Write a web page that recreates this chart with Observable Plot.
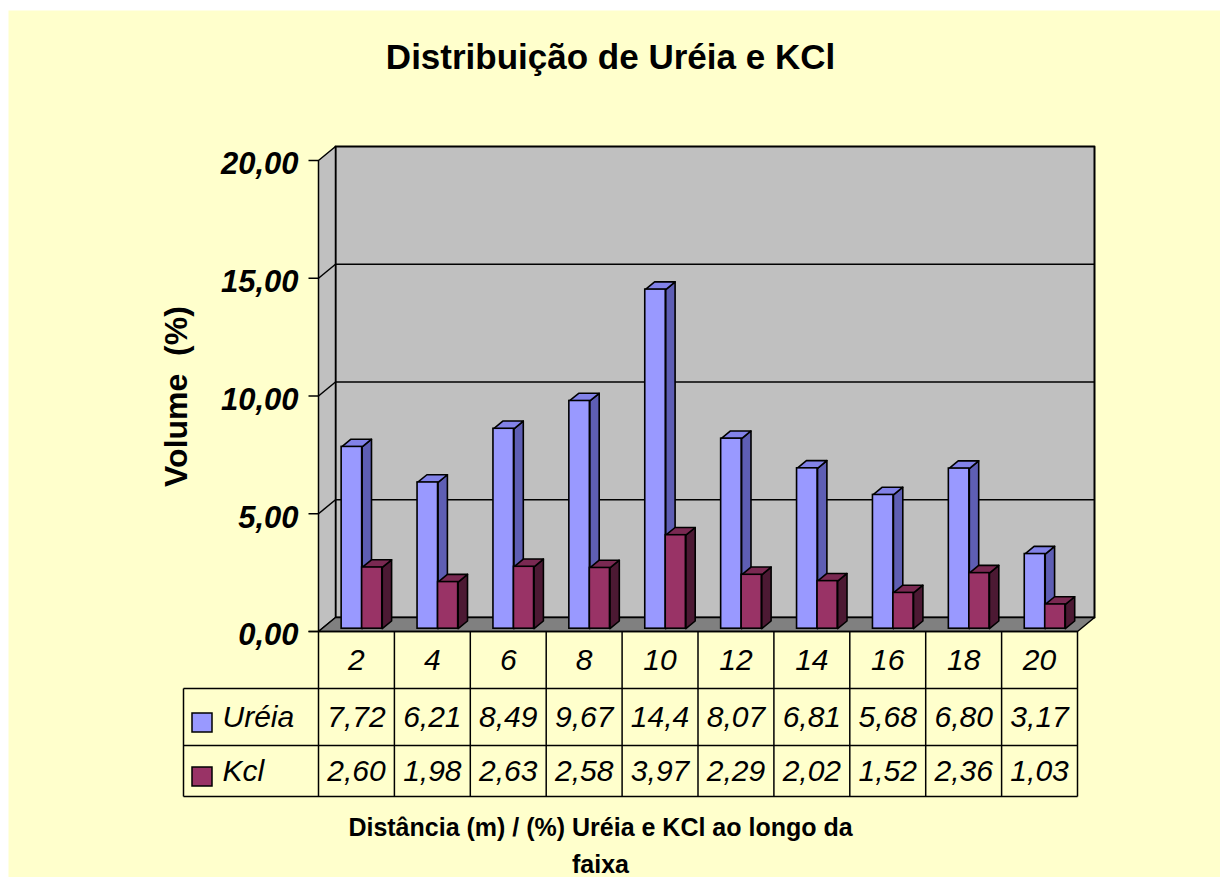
<!DOCTYPE html>
<html><head><meta charset="utf-8">
<script src="https://cdn.jsdelivr.net/npm/d3@7"></script>
<script src="https://cdn.jsdelivr.net/npm/@observablehq/plot@0.6"></script>
<style>
body{margin:0;background:#fff;}
#chart{width:1220px;height:877px;}
</style></head><body><div id="chart"></div>
<script>
// ---- data ----
const distances = ["2","4","6","8","10","12","14","16","18","20"];
const ureia = [7.72, 6.21, 8.49, 9.67, 14.4, 8.07, 6.81, 5.68, 6.80, 3.17];
const kcl   = [2.60, 1.98, 2.63, 2.58, 3.97, 2.29, 2.02, 1.52, 2.36, 1.03];
const yTicks = [0, 5, 10, 15, 20];
const seriesNames = ["Uréia", "Kcl"];
const titleText = "Distribuição de Uréia e KCl";
const yLabel = "Volume  (%)";
const xLabelLines = ["Distância (m) / (%) Uréia e KCl ao longo da", "faixa"];

// ---- layout (pixels -> data units) ----
const X0 = 318, X1 = 1077, YB = 631, YT = 160;
const UX = (X1 - X0) / distances.length, UY = (YB - YT) / 20;
const ax = p => (p - X0) / UX, ay = p => (YB - p) / UY;
const DDX = 17 / UX, DDY = 14 / UY;            // full depth of the 3D box
const fy = 0.2 * DDY;                          // bars' front plane
const bdx = 0.55 * DDX, bdy = 0.55 * DDY;      // bar depth
const slots = [[0.305, 0.575], [0.575, 0.84]];
const styles = [
  {front: "#9999FF", top: "#8282E8", side: "#5E5EB4"},
  {front: "#993366", top: "#7A2952", side: "#4C1933"}
];
const seriesValues = [ureia, kcl];
const fmt = v => v.toFixed(2).replace(".", ",").slice(0, 4);

const poly = (pts, id) => pts.concat([pts[0]]).map(([x, y]) => ({id, x, y}));

const sideWall = poly([[0, 0], [0, 20], [DDX, 20 + DDY], [DDX, DDY]], "side");
const backWall = poly([[DDX, DDY], [10 + DDX, DDY], [10 + DDX, 20 + DDY], [DDX, 20 + DDY]], "back");
const floor = poly([[0, 0], [10, 0], [10 + DDX, DDY], [DDX, DDY]], "floor");

const grid = [5, 10, 15].flatMap(t => [
  {x1: DDX, y1: t + DDY, x2: 10 + DDX, y2: t + DDY},
  {x1: 0, y1: t, x2: DDX, y2: t + DDY}
]);

const barMarks = [];
seriesValues.forEach((vals, s) => {
  const bars = vals.map((v, i) => ({
    i, v, x1: i + slots[s][0], x2: i + slots[s][1], y1: fy, y2: v + fy
  }));
  const sides = bars.flatMap(b => poly([[b.x2, b.y1], [b.x2 + bdx, b.y1 + bdy], [b.x2 + bdx, b.y2 + bdy], [b.x2, b.y2]], "s" + b.i));
  const tops = bars.flatMap(b => poly([[b.x1, b.y2], [b.x2, b.y2], [b.x2 + bdx, b.y2 + bdy], [b.x1 + bdx, b.y2 + bdy]], "t" + b.i));
  barMarks.push(
    Plot.line(sides, {x: "x", y: "y", z: "id", fill: styles[s].side, stroke: "black", strokeWidth: 1.6, strokeLinejoin: "round"}),
    Plot.line(tops, {x: "x", y: "y", z: "id", fill: styles[s].top, stroke: "black", strokeWidth: 1.6, strokeLinejoin: "round"}),
    Plot.rect(bars, {x1: "x1", x2: "x2", y1: "y1", y2: "y2", fill: styles[s].front, stroke: "black", strokeWidth: 1.6})
  );
});

// table geometry
const rowY = [631, 688, 745, 796];
const legendLeft = ax(183);
const tableLines = [
  ...d3.range(0, 11).map(k => ({x1: k, y1: 0, x2: k, y2: ay(rowY[3])})),
  {x1: legendLeft, y1: ay(rowY[1]), x2: legendLeft, y2: ay(rowY[3])},
  {x1: legendLeft, y1: ay(rowY[1]), x2: 10, y2: ay(rowY[1])},
  {x1: legendLeft, y1: ay(rowY[2]), x2: 10, y2: ay(rowY[2])},
  {x1: legendLeft, y1: ay(rowY[3]), x2: 10, y2: ay(rowY[3])},
  {x1: ax(308), y1: 0, x2: 10, y2: 0}
];
const headerCells = distances.map((d, i) => ({x: i + 0.5, y: ay(660), t: d}));
const valueCells = seriesValues.flatMap((vals, s) =>
  vals.map((v, i) => ({x: i + 0.5, y: ay(s === 0 ? 717 : 771), t: fmt(v)})));
const legendRows = seriesNames.map((n, s) => ({
  n, s, x1: ax(192), x2: ax(212), y1: ay(s === 0 ? 732 : 786), y2: ay(s === 0 ? 713 : 767),
  tx: ax(222), ty: ay(s === 0 ? 717 : 771)
}));
const xLabelRows = xLabelLines.map((t, i) => ({t, dy: i === 0 ? 827 : 864}));

const font = "'Liberation Sans', Arial, sans-serif";

const chart = Plot.plot({
  width: 1220, height: 877,
  marginLeft: 0, marginRight: 0, marginTop: 0, marginBottom: 0,
  style: {background: "white", fontFamily: font},
  x: {type: "linear", domain: [0, 10], range: [X0, X1], axis: null},
  y: {type: "linear", domain: [0, 20], range: [YB, YT], axis: null},
  marks: [
    Plot.frame({fill: "#FFFFCC", stroke: null, insetLeft: 8, insetTop: 10}),
    Plot.line(backWall, {x: "x", y: "y", z: "id", fill: "#C0C0C0", stroke: "black", strokeWidth: 2}),
    Plot.line(sideWall, {x: "x", y: "y", z: "id", fill: "#C0C0C0", stroke: "black", strokeWidth: 1.5}),
    Plot.line(floor, {x: "x", y: "y", z: "id", fill: "#808080", stroke: "black", strokeWidth: 1.5}),
    Plot.link(grid, {x1: "x1", y1: "y1", x2: "x2", y2: "y2", stroke: "black", strokeWidth: 1.5}),
    Plot.link(yTicks, {x1: ax(308), x2: 0, y1: d => d, y2: d => d, stroke: "black", strokeWidth: 1.5}),
    Plot.text(yTicks, {x: ax(298), y: d => d, text: d => d.toFixed(2).replace(".", ","), textAnchor: "end",
      dy: 4, fontSize: 31, fontWeight: "bold", fontStyle: "italic", fill: "black"}),
    ...barMarks,
    Plot.link(tableLines, {x1: "x1", y1: "y1", x2: "x2", y2: "y2", stroke: "black", strokeWidth: 1.5}),
    Plot.text(headerCells, {x: "x", y: "y", text: "t", fontSize: 30, fontStyle: "italic", fill: "black"}),
    Plot.text(valueCells, {x: "x", y: "y", text: "t", fontSize: 30, fontStyle: "italic", fill: "black"}),
    Plot.rect(legendRows, {x1: "x1", x2: "x2", y1: "y1", y2: "y2", fill: d => styles[d.s].front, stroke: "black", strokeWidth: 1.5}),
    Plot.text(legendRows, {x: "tx", y: "ty", text: "n", textAnchor: "start", fontSize: 30, fontStyle: "italic", fill: "black"}),
    Plot.text([titleText], {frameAnchor: "top-left", dx: 610, dy: 57, text: d => d, textAnchor: "middle", lineAnchor: "middle",
      fontSize: 35, fontWeight: "bold", fill: "black"}),
    Plot.text([yLabel], {frameAnchor: "top-left", dx: 176, dy: 396, rotate: -90, text: d => d, textAnchor: "middle", lineAnchor: "middle",
      fontSize: 32, fontWeight: "bold", fill: "black"}),
    Plot.text(xLabelRows, {frameAnchor: "top-left", dx: 600, dy: d => 0, text: "t", textAnchor: "middle", lineAnchor: "middle",
      fontSize: 25, fontWeight: "bold", fill: "black", filter: d => d.dy === 827, dy: 827}),
    Plot.text(xLabelRows, {frameAnchor: "top-left", dx: 600, text: "t", textAnchor: "middle", lineAnchor: "middle",
      fontSize: 25, fontWeight: "bold", fill: "black", filter: d => d.dy === 864, dy: 864})
  ]
});
document.getElementById("chart").append(chart);
</script></body></html>
